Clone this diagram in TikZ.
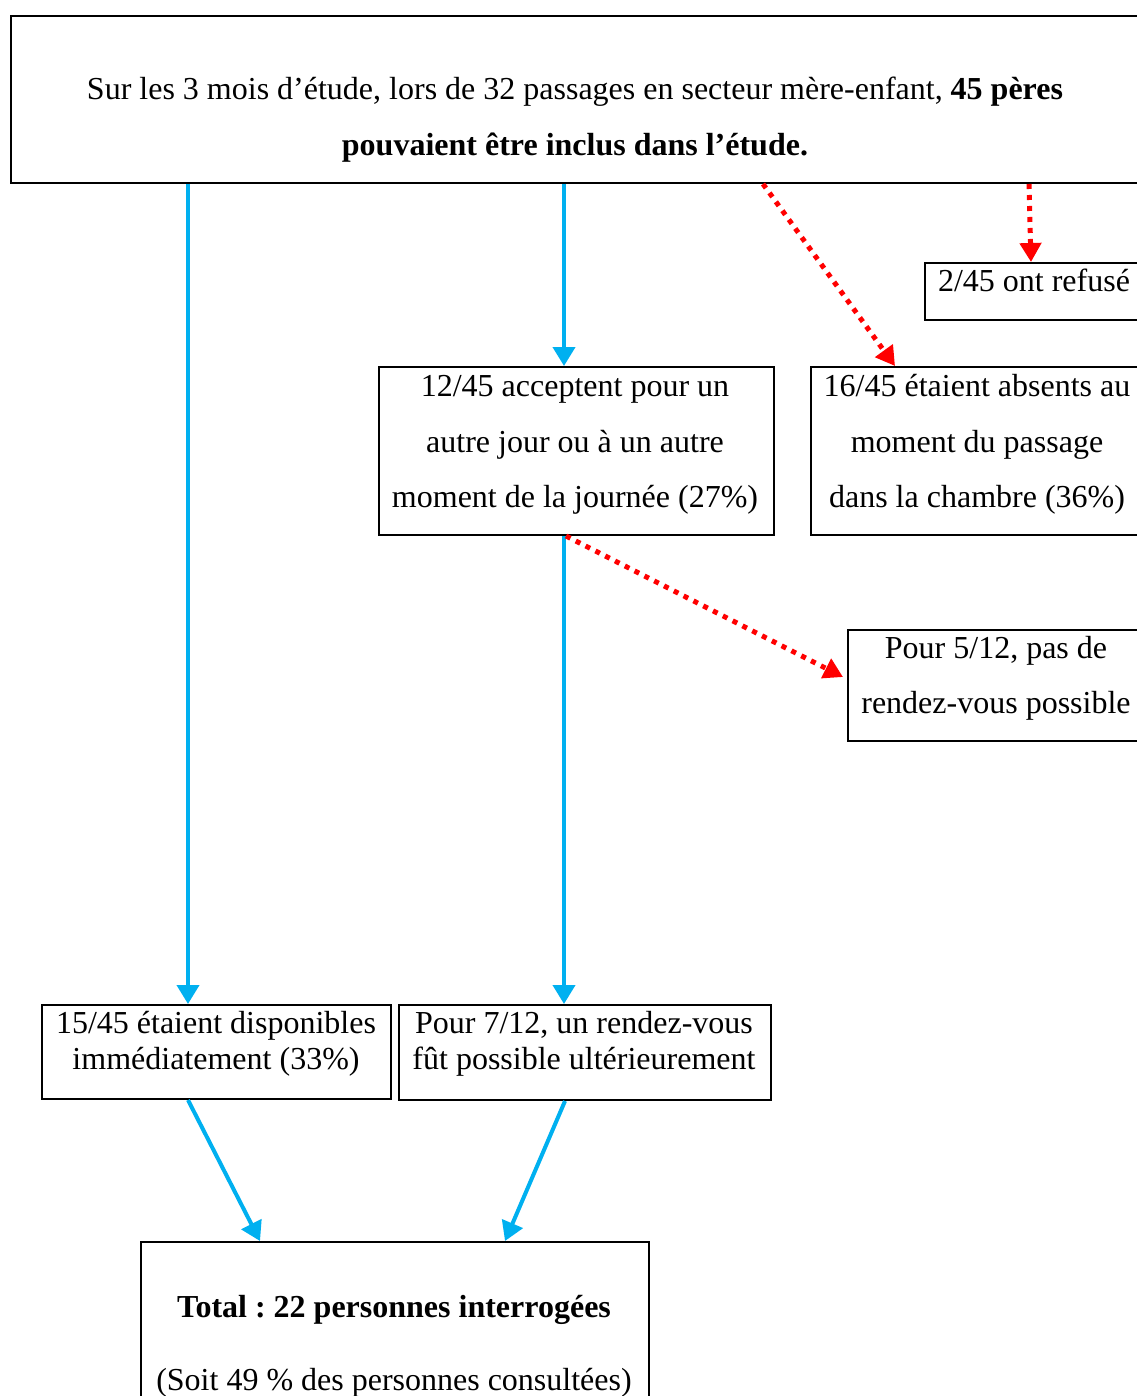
\documentclass[tikz,border=0pt]{standalone}
\usepackage{fontspec}
\setmainfont{Liberation Serif}
\usetikzlibrary{arrows.meta}
\definecolor{cblue}{RGB}{0,176,240}
\definecolor{cred}{RGB}{255,0,0}
\frenchspacing
\begin{document}
\begin{tikzpicture}[x=1pt,y=-1pt,
  box/.style={draw=black, line width=2pt, rectangle, inner sep=0pt, anchor=north west},
  txt/.style={anchor=base, inner sep=0pt, font=\fontsize{32}{38}\selectfont\frenchspacing},
  bluearr/.style={draw=cblue, line width=4pt, -{Triangle[width=22pt,length=19pt]}},
  redarr/.style={draw=cred, line width=5pt, dash pattern=on 5pt off 6pt, -{Triangle[width=21pt,length=19pt]}}]
\useasboundingbox (0,0) rectangle (1136,1396);
\fill[white] (0,0) rectangle (1136,1396);
% boxes
\node[box, minimum width=1130pt, minimum height=167pt] (top) at (10,15) {};
\node[box, minimum width=220pt, minimum height=57pt] (refuse) at (924,262) {};
\node[box, minimum width=334pt, minimum height=168pt] (absent) at (810,366) {};
\node[box, minimum width=395pt, minimum height=168pt] (accept) at (378,366) {};
\node[box, minimum width=298pt, minimum height=111pt] (rdv5) at (847,629) {};
\node[box, minimum width=349pt, minimum height=94pt] (dispo) at (41,1004) {};
\node[box, minimum width=372pt, minimum height=95pt] (sept) at (398,1004) {};
\node[box, minimum width=508pt, minimum height=179pt] (total) at (140,1241) {};
% texts
\node[txt] (ta) at (575,100) {Sur les 3 mois d’étude, lors de 32 passages en secteur mère-enfant, \textbf{45 pères}};
\node[txt] (tb) at (575,156) {\textbf{pouvaient être inclus dans l’étude.}};
\node[txt] (ra) at (1034,292) {2/45 ont refusé};
\node[txt] (aa) at (575,396) {12/45 acceptent pour un};
\node[txt] (ab) at (575,452) {autre jour ou à un autre};
\node[txt] (ac) at (575,507) {moment de la journée (27\%)};
\node[txt] (ba) at (977,396) {16/45 étaient absents au};
\node[txt] (bb) at (977,452) {moment du passage};
\node[txt] (bc) at (977,507) {dans la chambre (36\%)};
\node[txt] (ca) at (996,658) {Pour 5/12, pas de};
\node[txt] (cb) at (996,713) {rendez-vous possible};
\node[txt] (da) at (216,1033) {15/45 étaient disponibles};
\node[txt] (db) at (216,1069) {immédiatement (33\%)};
\node[txt] (ea) at (584,1033) {Pour 7/12, un rendez-vous};
\node[txt] (eb) at (584,1069) {fût possible ultérieurement};
\node[txt] (fa) at (394,1317) {\textbf{Total : 22 personnes interrogées}};
\node[txt] (fb) at (394,1390) {(Soit 49 \% des personnes consultées)};
% connectors
\draw[bluearr] ([xshift=178pt]top.south west) -- ([xshift=147pt]dispo.north west);
\draw[bluearr] ([xshift=554pt]top.south west) -- ([xshift=186pt]accept.north west);
\draw[redarr] ([xshift=753pt]top.south west) -- ([xshift=85pt]absent.north west);
\draw[redarr] ([xshift=1019pt]top.south west) -- ([xshift=107pt]refuse.north west);
\draw[bluearr] ([xshift=186pt]accept.south west) -- ([xshift=166pt]sept.north west);
\draw[redarr] ([xshift=188pt]accept.south west) -- ([xshift=-4pt,yshift=-48pt]rdv5.north west);
\draw[bluearr] ([xshift=147pt]dispo.south west) -- ([xshift=120pt]total.north west);
\draw[bluearr] ([xshift=167pt]sept.south west) -- ([xshift=365pt]total.north west);
\end{tikzpicture}
\end{document}
